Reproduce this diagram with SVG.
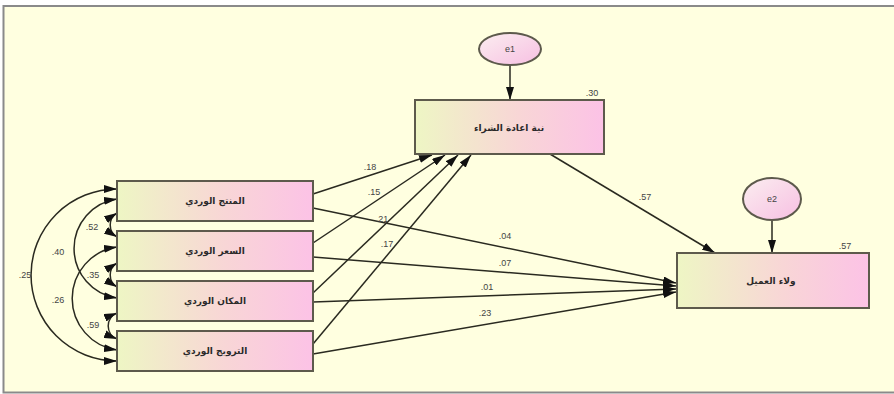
<svg xmlns="http://www.w3.org/2000/svg" width="894" height="394" viewBox="0 0 894 394">
<defs>
<linearGradient id="gb" x1="0" y1="0" x2="1" y2="0">
<stop offset="0" stop-color="#eef6c4"/>
<stop offset="0.55" stop-color="#f8d6d6"/>
<stop offset="1" stop-color="#fcc2e6"/>
</linearGradient>
<linearGradient id="ge" x1="0" y1="0" x2="1" y2="1">
<stop offset="0" stop-color="#fbeef0"/>
<stop offset="1" stop-color="#f7bfe2"/>
</linearGradient>
<marker id="ah" viewBox="0 0 13 8" refX="13" refY="4" markerWidth="13" markerHeight="8" markerUnits="userSpaceOnUse" orient="auto-start-reverse">
<path d="M0,0 L13,4 L0,8 z" fill="#111"/>
</marker>
<style>
.box{fill:url(#gb);stroke:#5d5a4c;stroke-width:2}
.err{fill:url(#ge);stroke:#5d5a4c;stroke-width:2}
.lbl{font-family:"DejaVu Sans",sans-serif;font-size:9px;font-weight:bold;fill:#2a2a2a;text-anchor:middle}
.num{font-family:"Liberation Sans",Arial,sans-serif;font-size:9px;fill:#444;text-anchor:middle}
.ln{fill:none;stroke:#2a2a20;stroke-width:1.5;marker-end:url(#ah)}
.cv{fill:none;stroke:#2a2a20;stroke-width:1.5;marker-end:url(#ah);marker-start:url(#ah)}
</style>
</defs>
<rect x="0" y="0" width="894" height="394" fill="#ffffff"/>
<rect x="3.5" y="6" width="900" height="386.5" fill="#ffffe0" stroke="#8a8a8a" stroke-width="2"/>

<g id="connectors">
<line class="ln" x1="510" y1="65" x2="510" y2="100"/>
<line class="ln" x1="772" y1="220" x2="772" y2="253"/>
<line class="ln" x1="313" y1="194" x2="432" y2="155"/>
<line class="ln" x1="313" y1="243" x2="445" y2="155"/>
<line class="ln" x1="313" y1="293" x2="458" y2="155"/>
<line class="ln" x1="313" y1="344" x2="471" y2="155"/>
<line class="ln" x1="313" y1="208" x2="676" y2="283"/>
<line class="ln" x1="313" y1="257" x2="676" y2="286"/>
<line class="ln" x1="313" y1="302" x2="676" y2="289"/>
<line class="ln" x1="313" y1="354" x2="676" y2="292"/>
<line class="ln" x1="550" y1="154" x2="715" y2="253"/>
<path class="cv" d="M117,189 A86,86 0 0 0 117,361"/>
<path class="cv" d="M117,199 A50,50 0 0 0 117,298"/>
<path class="cv" d="M117,247 A52,52 0 0 0 117,350"/>
<path class="cv" d="M117,213 A14,14 0 0 0 117,237"/>
<path class="cv" d="M117,263 A14,14 0 0 0 117,287"/>
<path class="cv" d="M117,313 A14,14 0 0 0 117,339"/>
<text class="num" x="370" y="170">.18</text>
<text class="num" x="374" y="195">.15</text>
<text class="num" x="382" y="222">.21</text>
<text class="num" x="387" y="247">.17</text>
<text class="num" x="505" y="239">.04</text>
<text class="num" x="505" y="266">.07</text>
<text class="num" x="487" y="290">.01</text>
<text class="num" x="485" y="316">.23</text>
<text class="num" x="645" y="200">.57</text>
<text class="num" x="92" y="230">.52</text>
<text class="num" x="58" y="255">.40</text>
<text class="num" x="25" y="278">.25</text>
<text class="num" x="93" y="278">.35</text>
<text class="num" x="58" y="303">.26</text>
<text class="num" x="93" y="328">.59</text>
</g>

<g id="e1">
<ellipse class="err" cx="510" cy="49" rx="31" ry="16"/>
<text class="num" x="510" y="52" font-size="8">e1</text>
</g>
<g id="e2">
<ellipse class="err" cx="772" cy="199" rx="29" ry="21"/>
<text class="num" x="772" y="202" font-size="8">e2</text>
</g>

<g id="repurchase">
<rect class="box" x="415" y="100" width="189" height="54"/>
<text class="lbl" x="509" y="131">نية اعادة الشراء</text>
<text class="num" x="592" y="96">.30</text>
</g>
<g id="loyalty">
<rect class="box" x="677" y="253" width="192" height="55"/>
<text class="lbl" x="771" y="284">ولاء العميل</text>
<text class="num" x="845" y="249">.57</text>
</g>
<g id="product">
<rect class="box" x="117" y="181" width="196" height="40"/>
<text class="lbl" x="215" y="204">المنتج الوردي</text>
</g>
<g id="price">
<rect class="box" x="117" y="231" width="196" height="40"/>
<text class="lbl" x="215" y="254">السعر الوردي</text>
</g>
<g id="place">
<rect class="box" x="117" y="281" width="196" height="40"/>
<text class="lbl" x="215" y="304">المكان الوردي</text>
</g>
<g id="promotion">
<rect class="box" x="117" y="331" width="196" height="40"/>
<text class="lbl" x="215" y="354">الترويج الوردي</text>
</g>
</svg>
